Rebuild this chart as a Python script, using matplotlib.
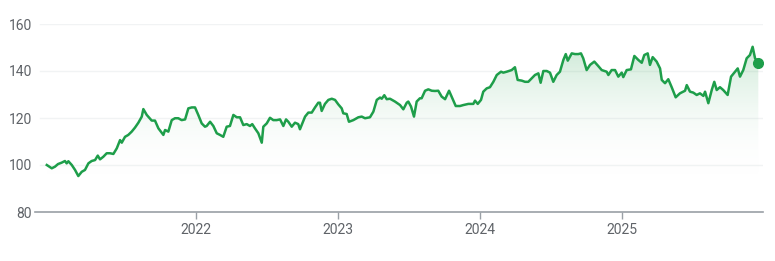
import numpy as np
import matplotlib
matplotlib.use("Agg")
import matplotlib.pyplot as plt

# Datos (fecha en anios decimales, valor)
years = [
    2020.949, 2020.984, 2021.007, 2021.028, 2021.054, 2021.077, 2021.089, 2021.101,
    2021.125, 2021.148, 2021.171, 2021.195, 2021.218, 2021.242, 2021.265, 2021.289,
    2021.308, 2021.324, 2021.347, 2021.371, 2021.394, 2021.418, 2021.442, 2021.465,
    2021.477, 2021.500, 2021.523, 2021.547, 2021.570, 2021.594, 2021.618, 2021.629,
    2021.653, 2021.688, 2021.711, 2021.735, 2021.770, 2021.782, 2021.805, 2021.829,
    2021.852, 2021.875, 2021.899, 2021.923, 2021.946, 2021.970, 2021.993, 2022.016,
    2022.040, 2022.063, 2022.075, 2022.099, 2022.122, 2022.146, 2022.169, 2022.192,
    2022.216, 2022.239, 2022.263, 2022.287, 2022.310, 2022.333, 2022.357, 2022.380,
    2022.396, 2022.415, 2022.439, 2022.463, 2022.474, 2022.498, 2022.521, 2022.544,
    2022.568, 2022.592, 2022.615, 2022.634, 2022.650, 2022.674, 2022.697, 2022.720,
    2022.732, 2022.768, 2022.791, 2022.815, 2022.838, 2022.861, 2022.873, 2022.885,
    2022.908, 2022.932, 2022.956, 2022.979, 2023.002, 2023.026, 2023.037, 2023.061,
    2023.077, 2023.108, 2023.143, 2023.167, 2023.190, 2023.225, 2023.249, 2023.273,
    2023.296, 2023.308, 2023.326, 2023.343, 2023.366, 2023.401, 2023.437, 2023.460,
    2023.484, 2023.495, 2023.514, 2023.535, 2023.554, 2023.577, 2023.589, 2023.613,
    2023.636, 2023.660, 2023.683, 2023.706, 2023.730, 2023.754, 2023.782, 2023.805,
    2023.829, 2023.859, 2023.882, 2023.918, 2023.953, 2023.965, 2023.984, 2024.007,
    2024.023, 2024.047, 2024.070, 2024.094, 2024.118, 2024.148, 2024.164, 2024.188,
    2024.223, 2024.246, 2024.265, 2024.294, 2024.317, 2024.340, 2024.364, 2024.387,
    2024.411, 2024.427, 2024.446, 2024.470, 2024.493, 2024.516, 2024.540, 2024.563,
    2024.587, 2024.604, 2024.618, 2024.646, 2024.669, 2024.692, 2024.711, 2024.727,
    2024.751, 2024.775, 2024.805, 2024.833, 2024.857, 2024.892, 2024.904, 2024.927,
    2024.951, 2024.974, 2024.998, 2025.009, 2025.033, 2025.063, 2025.087, 2025.115,
    2025.139, 2025.157, 2025.181, 2025.197, 2025.216, 2025.244, 2025.268, 2025.280,
    2025.303, 2025.326, 2025.350, 2025.378, 2025.408, 2025.444, 2025.456, 2025.479,
    2025.502, 2025.526, 2025.549, 2025.573, 2025.585, 2025.608, 2025.632, 2025.650,
    2025.667, 2025.690, 2025.713, 2025.744, 2025.768, 2025.791, 2025.815, 2025.831,
    2025.854, 2025.878, 2025.901, 2025.920, 2025.937, 2025.960,
]
values = [
    100.0, 98.6, 99.3, 100.4, 101.0, 101.7, 100.7, 101.6,
    100.0, 97.9, 95.3, 97.1, 97.9, 100.7, 101.7, 102.1,
    104.0, 102.4, 103.5, 105.0, 105.0, 104.7, 107.1, 110.6,
    109.5, 112.0, 112.8, 114.2, 115.9, 118.0, 120.6, 123.8,
    121.3, 118.9, 118.9, 115.6, 112.8, 114.9, 114.2, 119.1,
    119.9, 119.9, 119.1, 119.4, 124.1, 124.5, 124.5, 121.3,
    117.7, 116.3, 116.6, 118.4, 116.6, 113.5, 112.8, 112.0,
    116.3, 116.6, 121.3, 120.3, 120.3, 117.0, 117.4, 116.6,
    117.4, 115.6, 113.5, 109.5, 116.3, 117.7, 120.1, 119.1,
    119.1, 119.4, 116.6, 119.4, 118.4, 116.3, 118.0, 117.4,
    115.2, 120.6, 122.3, 122.3, 124.5, 126.5, 126.5, 123.0,
    126.0, 127.7, 128.2, 127.7, 125.8, 124.1, 122.0, 121.7,
    118.4, 119.1, 120.3, 120.6, 119.9, 120.3, 122.7, 127.7,
    128.7, 128.2, 129.7, 128.0, 128.2, 127.0, 125.5, 123.7,
    126.5, 127.0, 124.9, 120.6, 127.0, 128.4, 128.4, 131.6,
    132.2, 131.6, 131.5, 131.6, 129.1, 128.0, 131.6, 128.4,
    125.1, 125.1, 125.5, 126.0, 126.0, 127.4, 126.0, 127.7,
    131.2, 132.6, 133.1, 135.4, 138.3, 139.7, 139.3, 139.7,
    140.4, 141.6, 136.2, 135.9, 135.4, 135.4, 136.9, 138.3,
    139.0, 135.0, 140.0, 140.0, 139.3, 135.4, 138.3, 139.7,
    144.7, 147.2, 144.4, 147.5, 147.2, 147.2, 147.5, 145.4,
    140.4, 142.6, 144.0, 142.1, 140.4, 139.7, 138.3, 140.4,
    140.4, 137.6, 139.3, 137.4, 140.4, 140.7, 146.4, 144.7,
    143.5, 146.8, 147.5, 142.6, 145.9, 144.0, 141.1, 136.2,
    134.8, 136.5, 133.1, 128.8, 130.5, 131.6, 134.0, 131.2,
    130.8, 129.8, 130.5, 129.4, 131.2, 126.3, 131.9, 135.4,
    131.9, 133.1, 131.9, 129.8, 137.6, 139.3, 141.1, 137.6,
    140.4, 145.4, 146.8, 150.3, 145.4, 143.5,
]
tick_years = [2022, 2023, 2024, 2025]
tick_labels = ["2022", "2023", "2024", "2025"]
y_ticks = [80, 100, 120, 140, 160]

plt.rcParams['font.family'] = ['Roboto', 'DejaVu Sans']

verde = '#1e9e4a'
gris = '#5f6368'

fig = plt.figure(figsize=(7.75, 2.61), dpi=100)
ax = fig.add_axes([35 / 775, 49 / 261, 728 / 775, 188 / 261])

x = np.array(years)
y = np.array(values)

# Relleno degradado bajo la curva
poly = ax.fill_between(x, y, 80, color='none', lw=0)
grad = np.linspace(0, 1, 256).reshape(-1, 1)
cmap = matplotlib.colors.LinearSegmentedColormap.from_list(
    'g', [(1, 1, 1, 0), (0.12, 0.62, 0.29, 0.22)])
img = ax.imshow(grad, cmap=cmap, aspect='auto', origin='lower',
                extent=[x.min(), x.max(), 95, 150], zorder=1)
img.set_clip_path(poly.get_paths()[0], transform=ax.transData)

ax.plot(x, y, color=verde, lw=1.8, zorder=3, solid_joinstyle='round')
ax.plot(x[-1], y[-1], 'o', color=verde, markersize=7, zorder=4)

ax.set_xlim(2020.866, 2025.993)
ax.set_ylim(80, 160)

ax.set_yticks(y_ticks)
ax.set_yticklabels([str(v) for v in y_ticks])
ax.set_xticks(tick_years)
ax.set_xticklabels(tick_labels)

for v in y_ticks[1:]:
    ax.axhline(v, color='#f1f3f4', lw=1, zorder=0, xmin=5 / 728)

for s in ['top', 'right', 'left']:
    ax.spines[s].set_visible(False)
ax.spines['bottom'].set_color('#9aa0a6')
ax.spines['bottom'].set_linewidth(1.2)

ax.tick_params(axis='y', length=0, pad=2, labelsize=10, labelcolor=gris)
ax.tick_params(axis='x', length=5, width=1, color='#9aa0a6', pad=3,
               labelsize=10, labelcolor=gris)

fig.savefig('out.png', dpi=100)
